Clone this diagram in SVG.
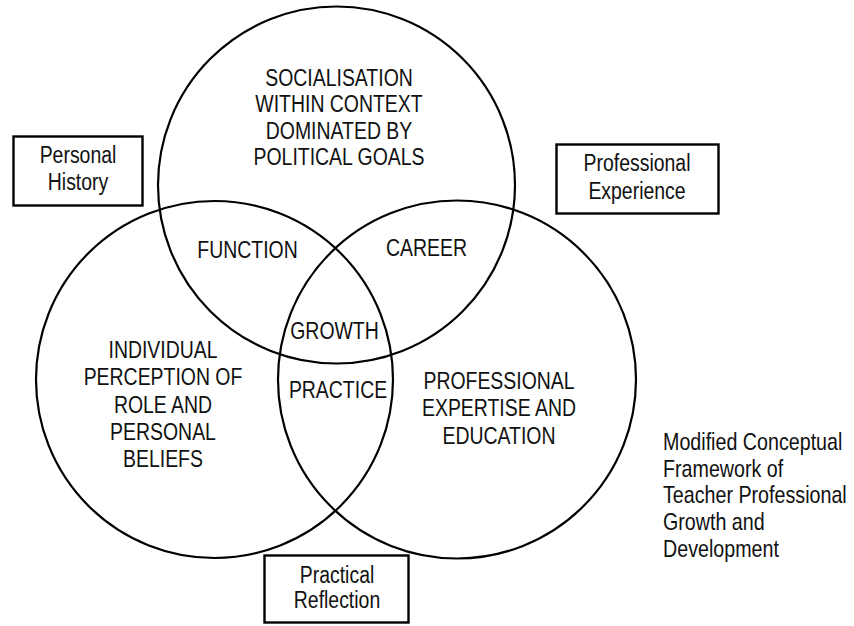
<svg xmlns="http://www.w3.org/2000/svg" width="854" height="626" viewBox="0 0 854 626">
  <style>
    .ring { fill: none; stroke: #000; stroke-width: 2.2; }
    .box { fill: #fff; stroke: #000; stroke-width: 2.4; }
    text { font-family: "Liberation Sans", Arial, sans-serif; font-size: 24px; fill: #111; }
    .c { text-anchor: middle; }
    .l { text-anchor: start; }
  </style>
  <rect width="854" height="626" fill="#fff"/>

  <!-- three overlapping circles -->
  <g id="circle-socialisation">
    <circle class="ring" cx="336.5" cy="185" r="178.5"/>
    <text class="c" transform="translate(339,86) scale(0.81,1)">SOCIALISATION</text>
    <text class="c" transform="translate(339,112) scale(0.81,1)">WITHIN CONTEXT</text>
    <text class="c" transform="translate(339,139) scale(0.81,1)">DOMINATED BY</text>
    <text class="c" transform="translate(339,165) scale(0.81,1)">POLITICAL GOALS</text>
  </g>
  <g id="circle-individual">
    <circle class="ring" cx="214.5" cy="379.5" r="178.5"/>
    <text class="c" transform="translate(163,358) scale(0.81,1)">INDIVIDUAL</text>
    <text class="c" transform="translate(163,385) scale(0.81,1)">PERCEPTION OF</text>
    <text class="c" transform="translate(163,413) scale(0.81,1)">ROLE AND</text>
    <text class="c" transform="translate(163,440) scale(0.81,1)">PERSONAL</text>
    <text class="c" transform="translate(163,467) scale(0.81,1)">BELIEFS</text>
  </g>
  <g id="circle-professional">
    <circle class="ring" cx="457" cy="379.5" r="179"/>
    <text class="c" transform="translate(499,389) scale(0.81,1)">PROFESSIONAL</text>
    <text class="c" transform="translate(499,416) scale(0.81,1)">EXPERTISE AND</text>
    <text class="c" transform="translate(499,444) scale(0.81,1)">EDUCATION</text>
  </g>

  <!-- overlap labels -->
  <g id="overlap-function">
    <text class="c" transform="translate(247.5,258) scale(0.81,1)">FUNCTION</text>
  </g>
  <g id="overlap-career">
    <text class="c" transform="translate(426.5,256) scale(0.81,1)">CAREER</text>
  </g>
  <g id="overlap-growth">
    <text class="c" transform="translate(334.5,339) scale(0.81,1)">GROWTH</text>
  </g>
  <g id="overlap-practice">
    <text class="c" transform="translate(338,398) scale(0.81,1)">PRACTICE</text>
  </g>

  <!-- side boxes -->
  <g id="box-personal-history">
    <rect class="box" x="13.5" y="136.5" width="129" height="69"/>
    <text class="c" transform="translate(78,163) scale(0.81,1)">Personal</text>
    <text class="c" transform="translate(78,190) scale(0.81,1)">History</text>
  </g>
  <g id="box-professional-experience">
    <rect class="box" x="556.5" y="144.5" width="162" height="69"/>
    <text class="c" transform="translate(637,171) scale(0.81,1)">Professional</text>
    <text class="c" transform="translate(637,199) scale(0.81,1)">Experience</text>
  </g>
  <g id="box-practical-reflection">
    <rect class="box" x="264.5" y="555.5" width="144" height="67"/>
    <text class="c" transform="translate(337,583) scale(0.81,1)">Practical</text>
    <text class="c" transform="translate(337,608) scale(0.81,1)">Reflection</text>
  </g>

  <!-- caption -->
  <g id="caption">
    <text class="l" transform="translate(663,450) scale(0.82,1)">Modified Conceptual</text>
    <text class="l" transform="translate(663,477) scale(0.82,1)">Framework of</text>
    <text class="l" transform="translate(663,503) scale(0.82,1)">Teacher Professional</text>
    <text class="l" transform="translate(663,530) scale(0.82,1)">Growth and</text>
    <text class="l" transform="translate(663,557) scale(0.82,1)">Development</text>
  </g>

  <g id="connectors"/>
</svg>
